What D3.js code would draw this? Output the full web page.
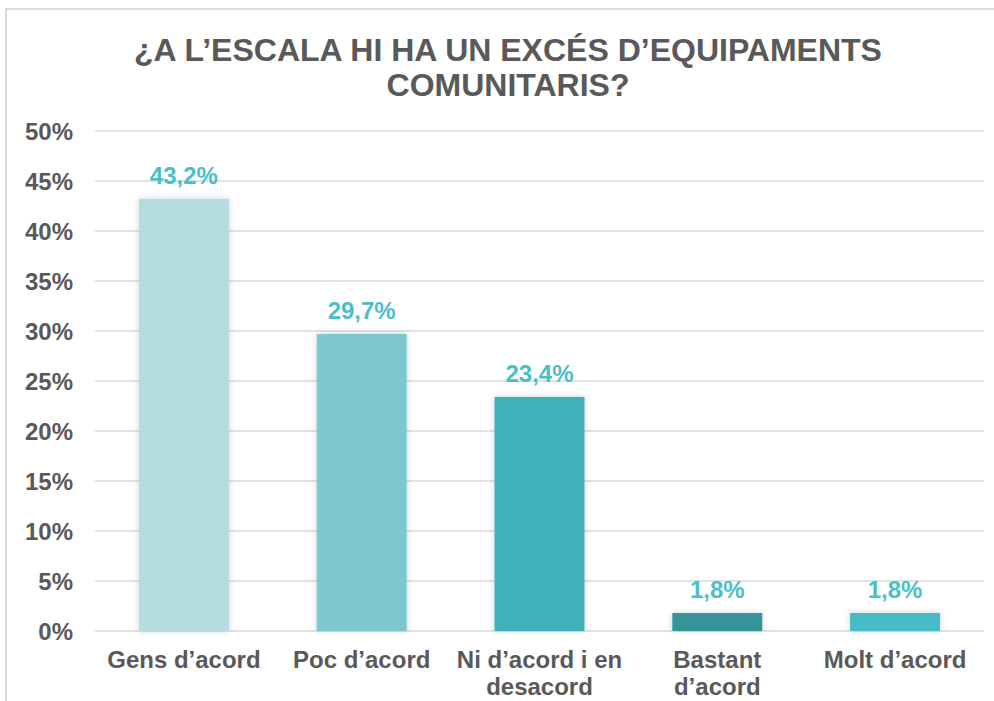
<!DOCTYPE html>
<html>
<head>
<meta charset="utf-8">
<script src="https://cdn.jsdelivr.net/npm/d3@7"></script>
<style>
  body { margin: 0; background: #fff; }
  svg { display: block; font-family: 'Liberation Sans', Arial, sans-serif; }
</style>
</head>
<body>
<div id="chart"></div>
<script>
'use strict'

// chart data
const categories = ['Gens d\u2019acord', 'Poc d\u2019acord', 'Ni d\u2019acord i en desacord', 'Bastant d\u2019acord', 'Molt d\u2019acord']
const labelLines = [['Gens d\u2019acord'], ['Poc d\u2019acord'], ['Ni d\u2019acord i en', 'desacord'], ['Bastant', 'd\u2019acord'], ['Molt d\u2019acord']]
const values = [43.2, 29.7, 23.4, 1.8, 1.8]
const barColors = ['#b4dce1', '#7bc8ce', '#41b1b9', '#36939a', '#47bcc6']
const yTicks = [0, 5, 10, 15, 20, 25, 30, 35, 40, 45, 50]
const titleLines = ['\u00bfA L\u2019ESCALA HI HA UN EXC\u00c9S D\u2019EQUIPAMENTS', 'COMUNITARIS?']

const W = 994, H = 701
const margin = { top: 131, right: 10, bottom: 70, left: 95 }
const plotRight = 984

const svg = d3.select('#chart')
  .append('svg')
    .attr('width', W)
    .attr('height', H)

// soft shadow on the bars
const defs = svg.append('defs')
defs.append('filter')
    .attr('id', 'shadow')
    .attr('x', '-20%').attr('y', '-20%')
    .attr('width', '140%').attr('height', '140%')
  .append('feDropShadow')
    .attr('dx', 0).attr('dy', 0)
    .attr('stdDeviation', 3)
    .attr('flood-color', '#000')
    .attr('flood-opacity', 0.18)

// outer frame (top and left edges visible)
svg.append('path')
  .attr('d', `M6,${H} L6,9 L${W},9`)
  .attr('fill', 'none')
  .attr('stroke', '#d9d9d9')
  .attr('stroke-width', 2)

// title
svg.append('text')
    .attr('text-anchor', 'middle')
    .attr('font-size', 32)
    .attr('font-weight', 'bold')
    .attr('fill', '#595959')
  .selectAll('tspan')
  .data(titleLines)
  .join('tspan')
    .attr('x', 508)
    .attr('y', (d, i) => 61 + i * 35)
    .text(d => d)

const x = d3.scaleBand()
  .domain(categories)
  .range([margin.left, plotRight])
  .paddingInner(0.494)
  .paddingOuter(0.247)

const y = d3.scaleLinear()
  .domain([0, 50])
  .range([631, 131])

// gridlines
svg.append('g')
  .selectAll('line')
  .data(yTicks)
  .join('line')
    .attr('x1', margin.left)
    .attr('x2', plotRight)
    .attr('y1', d => y(d))
    .attr('y2', d => y(d))
    .attr('stroke', '#d9d9d9')
    .attr('stroke-width', 1.5)

// y axis labels
const yAxis = svg.append('g')
  .attr('transform', 'translate(73,0)')
  .call(d3.axisLeft(y).tickValues(yTicks).tickFormat(d => d + '%').tickSize(0).tickPadding(0))
yAxis.select('.domain').remove()
yAxis.selectAll('text')
  .attr('font-family', "'Liberation Sans', Arial, sans-serif")
  .attr('font-size', 24)
  .attr('font-weight', 'bold')
  .attr('fill', '#595959')
  .attr('dy', '0.35em')

// bars
svg.append('g')
  .selectAll('rect')
  .data(values)
  .join('rect')
    .attr('x', (d, i) => x(categories[i]))
    .attr('width', x.bandwidth())
    .attr('y', d => y(d))
    .attr('height', d => y(0) - y(d))
    .attr('fill', (d, i) => barColors[i])
    .attr('filter', 'url(#shadow)')

// value labels
svg.append('g')
  .selectAll('text')
  .data(values)
  .join('text')
    .attr('x', (d, i) => x(categories[i]) + x.bandwidth() / 2)
    .attr('y', d => y(d) - 15)
    .attr('text-anchor', 'middle')
    .attr('font-size', 24)
    .attr('font-weight', 'bold')
    .attr('fill', '#4bbfc8')
    .text(d => d.toFixed(1).replace('.', ',') + '%')

// category labels
svg.append('g')
  .selectAll('text')
  .data(labelLines)
  .join('text')
    .attr('text-anchor', 'middle')
    .attr('font-size', 24)
    .attr('font-weight', 'bold')
    .attr('fill', '#595959')
    .attr('transform', (d, i) => `translate(${x(categories[i]) + x.bandwidth() / 2}, 668)`)
  .selectAll('tspan')
  .data(d => d)
  .join('tspan')
    .attr('x', 0)
    .attr('y', (d, i) => i * 27)
    .text(d => d)
</script>
</body>
</html>
